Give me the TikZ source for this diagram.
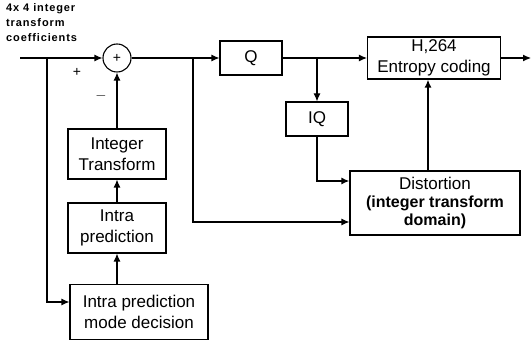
\documentclass[tikz,border=0pt]{standalone}
\usepackage{fontspec}
\setmainfont{Liberation Sans}
\usetikzlibrary{arrows.meta,positioning,calc}

\begin{document}
\begin{tikzpicture}[x=1pt, y=-1pt,
    every node/.style={font=\fontsize{17}{21}\selectfont, align=center, inner sep=1pt},
    blk/.style={draw, line width=1.1pt, minimum height=34pt},
    flow/.style={-{Latex[length=8pt,width=7pt]}, line width=1.1pt},
    heavy/.style={-{Latex[length=8pt,width=7pt]}, line width=2.4pt}
  ]
    \useasboundingbox (0,0) rectangle (532,344);
    % Input label
    \node[font=\fontsize{11}{15}\selectfont\bfseries\addfontfeature{LetterSpace=8}, align=left, anchor=north west] (lbl) at (5,2)
      {4x 4 integer\\transform\\coefficients};
    \coordinate (in) at (20,58);
    % Blocks
    \node[draw, circle, line width=1.1pt, minimum size=28pt, inner sep=0pt, font=\fontsize{14}{14}\selectfont] (sum) at (117,58) {+};
    \node[blk, minimum width=62pt] (q) at (251,58) {Q};
    \node[blk, minimum width=133pt, minimum height=42pt] (ent) at (434,58) {H,264\\Entropy coding};
    \node[blk, minimum width=62pt] (iq) at (317,119) {IQ};
    \node[blk, minimum width=170pt, minimum height=64pt] (dist) at (435,203)
      {Distortion\\[-3pt]{\fontsize{16}{19}\selectfont\bfseries (integer transform}\\[-3pt]{\fontsize{16}{19}\selectfont\bfseries domain)}};
    \node[blk, minimum width=98pt, minimum height=50pt] (itr) at (117,154) {Integer\\Transform};
    \node[blk, minimum width=98pt, minimum height=50pt] (ipred) at (117,228) {Intra\\prediction};
    \node[blk, minimum width=138pt, minimum height=55pt] (mode) at (139,312) {Intra prediction\\mode decision};
    % Signs
    \node[font=\fontsize{14}{14}\selectfont] (plus) at (77,72) {+};
    \node[font=\fontsize{14}{14}\selectfont] (minus) at (101,96) {$-$};
    % Branch points
    \coordinate (b1) at (47,58);
    \coordinate (b2) at (193,58);
    \coordinate (b3) at (317,58);
    \coordinate (out) at (531,58);
    % Arrows
    \draw[flow] (in) -- (sum.west);
    \draw[flow] (b1) -- (b1 |- 0,302) -- (mode.west |- 0,302);
    \draw[flow] (itr.north) -- (sum.south);
    \draw[flow] (ipred.north) -- (itr.south);
    \draw[flow] (ipred.south |- mode.north) -- (ipred.south);
    \draw[flow] (sum.east) -- (q.west);
    \draw[flow] (b2) -- (b2 |- 0,222) -- (dist.west |- 0,222);
    \draw[flow] (q.east) -- (ent.west);
    \draw[flow] (b3) -- (iq.north);
    \draw[line width=1.1pt] (iq.south) -- (iq.south |- 0,181) -- (338,181);
    \draw[heavy] (336,181) -- (dist.west |- 0,181);
    \draw[heavy] (dist.north -| 428,0) -- (ent.south -| 428,0);
    \draw[flow] (ent.east) -- (out);
  \end{tikzpicture}
\end{document}
